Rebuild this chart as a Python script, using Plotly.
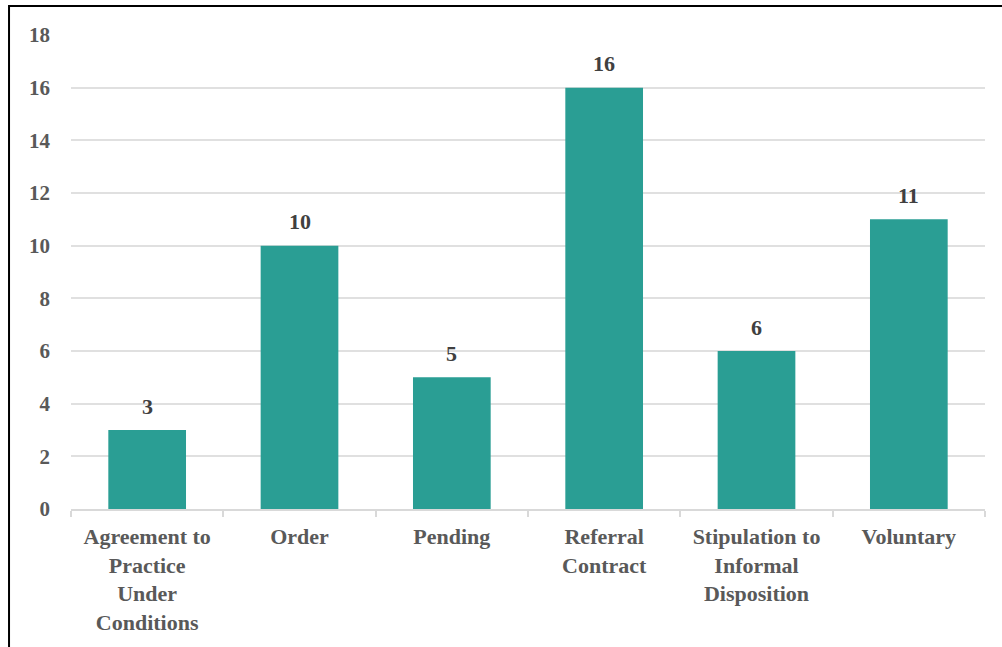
import plotly.graph_objects as go

categories = ["Agreement to<br>Practice<br>Under<br>Conditions", "Order", "Pending",
              "Referral<br>Contract", "Stipulation to<br>Informal<br>Disposition", "Voluntary"]
values = [3, 10, 5, 16, 6, 11]
y_ticks = [0, 2, 4, 6, 8, 10, 12, 14, 16, 18]

font_family = "Liberation Serif, Times New Roman, serif"
gray = "#595959"

fig = go.Figure()
fig.add_trace(go.Bar(
    x=categories, y=values,
    marker=dict(color="#2a9e94", line=dict(width=0)),
))
for c, v in zip(categories, values):
    fig.add_annotation(x=c, y=v, text=str(v), showarrow=False, yanchor="middle", yshift=24,
                       font=dict(family=font_family, size=22, color="#404040", weight="bold"))

fig.update_layout(
    width=1002, height=647,
    margin=dict(l=71, r=17, t=35, b=138),
    paper_bgcolor="white", plot_bgcolor="white",
    bargap=0.49,
    showlegend=False,
    font=dict(family=font_family, color=gray),
)
fig.update_xaxes(
    tickson="boundaries", ticks="outside", ticklen=6, tickcolor="#d9d9d9", tickwidth=1.5,
    showline=True, linecolor="#d9d9d9", linewidth=1.5, ticklabelstandoff=7,
    tickfont=dict(family=font_family, size=22, color=gray, weight="bold"),
    showgrid=False,
)
fig.update_yaxes(
    range=[0, 18], tickvals=y_ticks, showgrid=True, gridcolor="#e0e0e0", gridwidth=1.5,
    zeroline=False, ticks="", ticklabelstandoff=20,
    tickfont=dict(family=font_family, size=21, color=gray, weight="bold"),
)
fig.add_shape(type="rect", xref="paper", yref="paper",
              x0=-0.0678, x1=1.2, y0=-0.5, y1=1.0612,
              line=dict(color="black", width=2), fillcolor="rgba(0,0,0,0)", layer="below")

fig.write_html("out.html")
